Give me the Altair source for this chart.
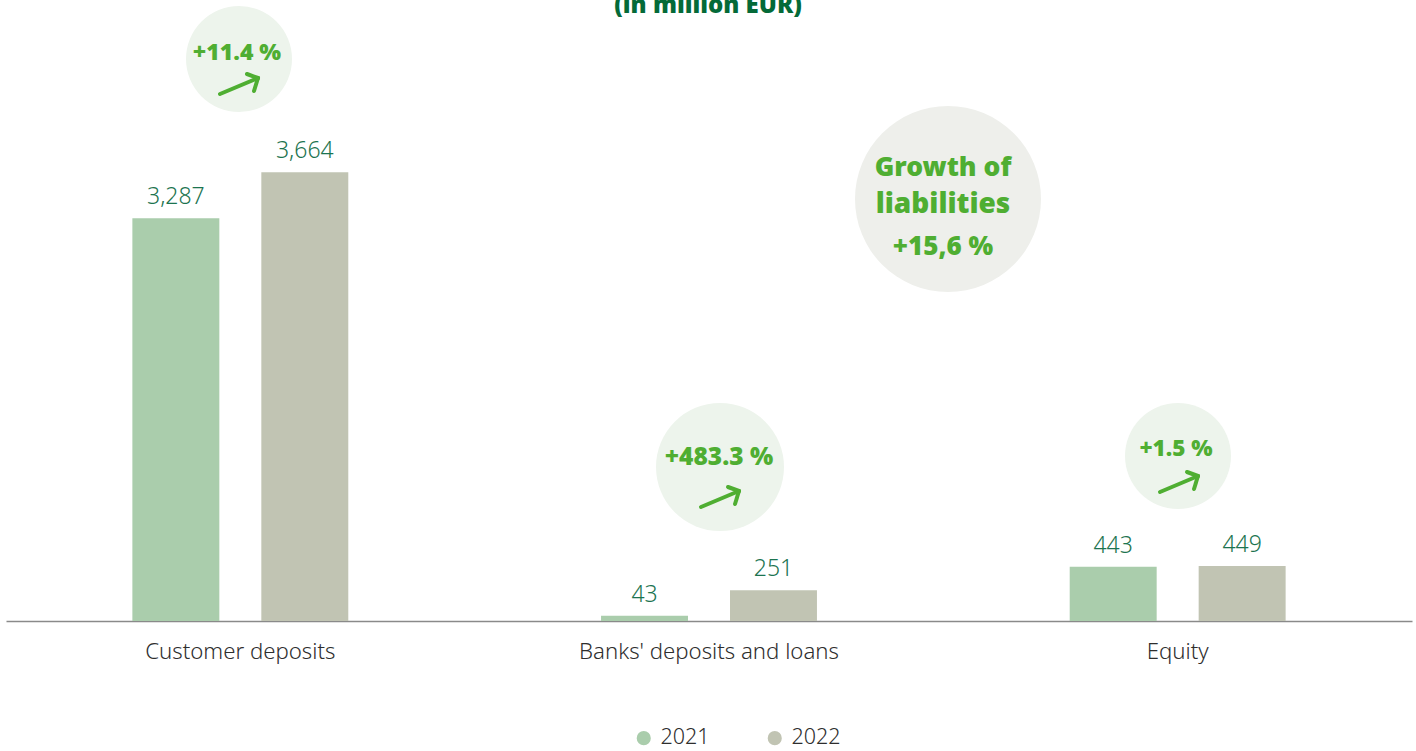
import altair as alt
import pandas as pd

categories = ["Customer deposits", "Banks' deposits and loans", "Equity"]
years = ["2021", "2022"]
values_2021 = [3287, 43, 443]
values_2022 = [3664, 251, 449]
change_labels = ["+11.4 %", "+483.3 %", "+1.5 %"]
subtitle = "(in million EUR)"
growth_lines = ["Growth of", "liabilities", "+15,6 %"]

LIGHT = "Noto Sans"
HEAVY = "Noto Sans"
GREEN = "#4fae32"
BUBBLE = "#edf4ec"
LEFT = 6

rows = []
for i, cat in enumerate(categories):
    rows.append({"category": cat, "year": years[0], "value": values_2021[i]})
    rows.append({"category": cat, "year": years[1], "value": values_2022[i]})
df = pd.DataFrame(rows)
df["label"] = df["value"].map(lambda v: f"{v:,}")

x = alt.X("category:N", sort=categories, title=None,
          scale=alt.Scale(paddingInner=0, paddingOuter=0),
          axis=alt.Axis(ticks=False, labelAngle=0, labelFont=LIGHT, labelFontWeight=300,
                        labelFontSize=22.2, labelColor="#2e2e2e", labelPadding=19, labelLimit=400,
                        domainColor="#8a8a8a", domainWidth=1.5, grid=False))
x_offset = alt.XOffset("year:N", sort=years,
                       scale=alt.Scale(paddingInner=0.3256, paddingOuter=0.98))
y = alt.Y("value:Q", axis=None, scale=alt.Scale(domain=[0, 5069], nice=False))

bars = alt.Chart(df).mark_bar().encode(
    x=x, xOffset=x_offset, y=y,
    color=alt.Color("year:N", sort=years,
                    scale=alt.Scale(domain=years, range=["#aacdac", "#c1c4b3"]),
                    legend=alt.Legend(title=None, orient="none", legendX=627, legendY=727,
                                      direction="horizontal", symbolType="circle",
                                      symbolSize=200, symbolStrokeWidth=0, labelFont=LIGHT,
                                      labelFontWeight=300, labelFontSize=21.5,
                                      labelColor="#2e2e2e", columnPadding=54, labelOffset=6)),
)
value_labels = alt.Chart(df).mark_text(
    font=LIGHT, fontWeight=300, fontSize=23, color="#1c7450", baseline="bottom", dy=-9
).encode(x=x, xOffset=x_offset, y=y, text="label:N")


def px(v):
    return v - LEFT


def disc(cx, cy, diameter, color):
    # A circle symbol's size is the square of its drawn width.
    return alt.Chart(pd.DataFrame({"n": [0]})).mark_point(
        filled=True, shape="circle", opacity=1, strokeWidth=0, color=color
    ).encode(x=alt.value(px(cx)), y=alt.value(cy), size=alt.value(diameter ** 2))


def caption(content, cx, baseline_y, size, color=GREEN):
    return alt.Chart(pd.DataFrame({"t": [content]})).mark_text(
        font=HEAVY, fontWeight=900, fontSize=size, color=color, align="center", baseline="alphabetic"
    ).encode(x=alt.value(px(cx)), y=alt.value(baseline_y), text="t:N")


def stroke(x0, y0, x1, y1):
    return alt.Chart(pd.DataFrame({"n": [0]})).mark_rule(
        color=GREEN, strokeWidth=4, strokeCap="round"
    ).encode(x=alt.value(px(x0)), x2=alt.value(px(x1)), y=alt.value(y0), y2=alt.value(y1))


def arrow(tail_x, tail_y):
    tip = (tail_x + 38, tail_y - 16)
    return [
        stroke(tail_x, tail_y, *tip),
        stroke(tail_x + 27, tail_y - 20, *tip),
        stroke(tail_x + 34, tail_y - 3, *tip),
    ]


# Change bubbles: centre x, centre y, diameter, text baseline, text centre, text size, arrow tail
bubble_layout = [
    (239, 59, 106, 60, 237, 23, 220, 94),
    (720, 467, 128, 465, 719, 24.5, 701, 507),
    (1178, 456, 106, 456, 1176, 22.5, 1160, 492),
]

layers = [bars, value_labels, caption(subtitle, 708, 13, 24, "#046a38")]
for text, (cx, cy, d, base, tx, size, ax, ay) in zip(change_labels, bubble_layout):
    layers.append(disc(cx, cy, d, BUBBLE))
    layers.append(caption(text, tx, base, size))
    layers.extend(arrow(ax, ay))

layers.append(disc(948, 199, 186, "#eeefeb"))
layers.append(caption(growth_lines[0], 943, 176, 26.5))
layers.append(caption(growth_lines[1], 943, 213, 28))
layers.append(caption(growth_lines[2], 943, 255, 26))

chart = alt.layer(*layers).properties(
    width=1406, height=621,
    padding={"left": LEFT, "top": 0, "right": 4, "bottom": 130},
    autosize=alt.AutoSizeParams(type="none"),
    background="white",
).configure_view(stroke=None)

chart.save("out.html", embed_options={"renderer": "svg", "actions": False})
